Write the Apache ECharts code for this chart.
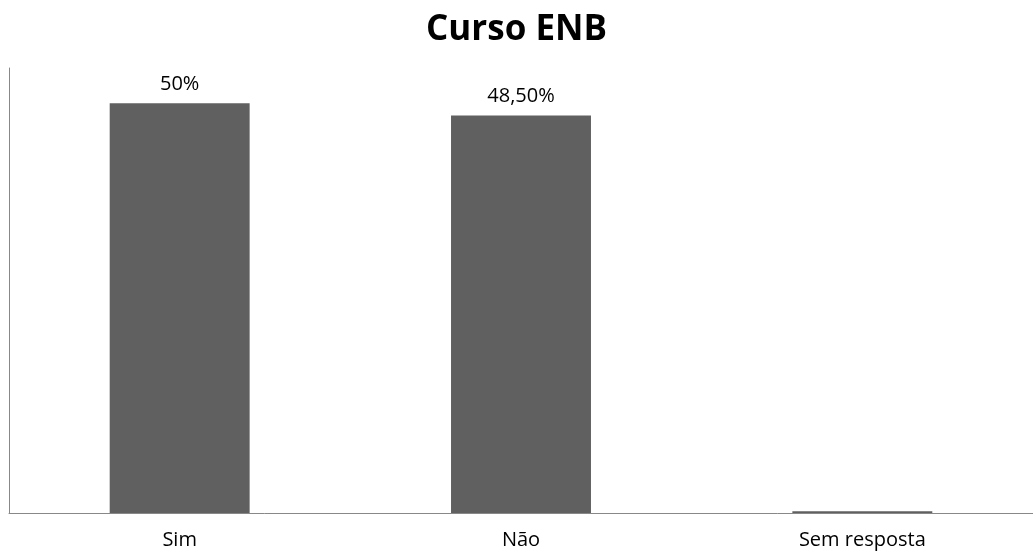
<!DOCTYPE html>
<html>
<head>
<meta charset="utf-8">
<script src="https://cdn.jsdelivr.net/npm/echarts@6/dist/echarts.min.js"></script>
<style>
  html, body { margin: 0; padding: 0; background: #ffffff; }
  #chart { width: 1033px; height: 554px; }
</style>
</head>
<body>
<div id="chart"></div>
<script>
// Survey answers for the ENB course (percent of respondents)
const categories = ['Sim', 'Não', 'Sem resposta'];
const values = [50, 48.5, 0.2];
const valueLabels = ['50%', '48,50%', ''];

const chart = echarts.init(document.getElementById('chart'));

chart.setOption({
  backgroundColor: '#ffffff',
  title: {
    text: 'Curso ENB',
    left: 'center',
    top: 8,
    textStyle: {
      fontFamily: 'Open Sans',
      fontWeight: 'bold',
      fontSize: 35,
      color: '#000000'
    }
  },
  grid: {
    left: 9,
    right: 0,
    top: 68,
    bottom: 41,
    containLabel: false
  },
  xAxis: {
    type: 'category',
    data: categories,
    axisLine: { show: true, lineStyle: { color: '#888888', width: 1 } },
    axisTick: { show: false },
    axisLabel: {
      fontFamily: 'Open Sans',
      fontSize: 20,
      color: '#000000',
      margin: 17
    }
  },
  yAxis: {
    type: 'value',
    min: 0,
    max: 54.3,
    axisLine: { show: true, lineStyle: { color: '#888888', width: 1 } },
    axisTick: { show: false },
    axisLabel: { show: false },
    splitLine: { show: false }
  },
  series: [{
    type: 'bar',
    data: values,
    barWidth: '41%',
    itemStyle: { color: '#606060' },
    label: {
      show: true,
      position: 'top',
      distance: 9,
      fontFamily: 'Open Sans',
      fontSize: 20,
      color: '#000000',
      formatter: p => valueLabels[p.dataIndex]
    }
  }],
  animation: false
});
</script>
</body>
</html>
